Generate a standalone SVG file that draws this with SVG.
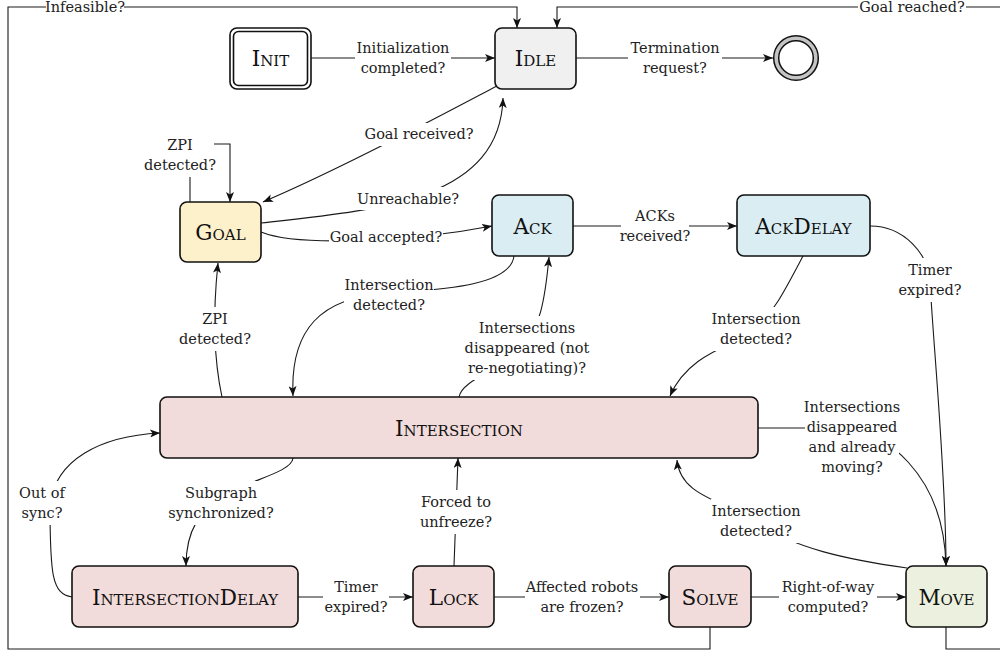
<svg xmlns="http://www.w3.org/2000/svg" width="1000" height="651" viewBox="0 0 1000 651">
  <defs>
    <marker id="arr" viewBox="0 0 10 8" markerWidth="10" markerHeight="8" refX="10" refY="4" orient="auto" markerUnits="userSpaceOnUse">
      <path d="M0,0 L10,4 L0,8 L2.5,4 Z" fill="#111"/>
    </marker>
    <style>
      .edge { fill: none; stroke: #1a1a1a; stroke-width: 1.1; }
      .arrow { marker-end: url(#arr); }
      .lbl rect { fill: #ffffff; stroke: none; }
      .lbl text { font-size: 14.5px; text-anchor: middle; fill: #222; }
      .box { stroke: #111; stroke-width: 1.6; }
      .nt { font-size: 21.5px; font-variant: small-caps; text-anchor: middle; fill: #111; }
      .plain { fill: #ffffff; }
      .idle { fill: #f0f0f0; }
      .goal { fill: #fdf1cb; }
      .ack { fill: #daedf3; }
      .inter { fill: #f2dcdb; }
      .move { fill: #ebf1de; }
    </style>
  </defs>

  <!-- transitions -->
  <g id="connectors">
    <path class="edge arrow" d="M 311,58 L 495,58"/>
    <path class="edge arrow" d="M 576,58 L 773,58"/>
    <path class="edge arrow" d="M 497,86 C 470,100 350,165 263,202"/>
    <path class="edge arrow" d="M 261,223 C 380,210 500,200 503,98"/>
    <path class="edge arrow" d="M 261,232 C 300,248 420,240 492,226"/>
    <path class="edge arrow" d="M 190,202 L 190,144 L 230,144 L 230,202"/>
    <path class="edge arrow" d="M 222,397 C 214,360 212,320 218,263"/>
    <path class="edge arrow" d="M 514,256 C 510,290 420,290 389,293 C 320,297 290,330 293,396"/>
    <path class="edge arrow" d="M 459,397 C 462,380 500,370 520,350 C 540,330 545,300 549,257"/>
    <path class="edge arrow" d="M 573,226 L 737,226"/>
    <path class="edge arrow" d="M 803,256 C 785,290 775,310 756,329 C 740,345 690,350 670,396"/>
    <path class="edge arrow" d="M 870,226 C 905,226 928,255 930,280 C 932,330 946,470 946,566"/>
    <path class="edge arrow" d="M 758,428 L 850,428 C 880,432 944,470 946,566"/>
    <path class="edge arrow" d="M 907,568 C 850,560 790,548 756,521 C 720,500 680,495 677,460"/>
    <path class="edge arrow" d="M 293,458 C 292,472 250,480 225,495 C 200,510 186,530 186,566"/>
    <path class="edge arrow" d="M 72,597 C 52,594 50,575 50,505 C 55,460 100,436 160,433"/>
    <path class="edge arrow" d="M 298,597 L 413,597"/>
    <path class="edge arrow" d="M 454,566 L 458,458"/>
    <path class="edge arrow" d="M 494,597 L 669,597"/>
    <path class="edge arrow" d="M 751,597 L 906,597"/>
    <path class="edge arrow" d="M 710,627 L 710,649 L 8,649 L 8,7 L 517,7 L 517,28"/>
    <path class="edge arrow" d="M 946,627 L 946,649 L 1010,649 L 1010,7 L 557,7 L 557,28"/>
  </g>

  <!-- transition labels -->
  <g id="labels" class="lbl" font-family="DejaVu Serif, serif">
    <rect x="355" y="36" width="96" height="44"/>
    <text x="403" y="53">Initialization</text><text x="403" y="73">completed?</text>

    <rect x="628" y="36" width="94" height="44"/>
    <text x="675" y="53">Termination</text><text x="675" y="73">request?</text>

    <rect x="364" y="123" width="110" height="23"/>
    <text x="419" y="139">Goal received?</text>

    <rect x="358" y="187" width="101" height="23"/>
    <text x="408" y="204">Unreachable?</text>

    <rect x="329" y="226" width="114" height="23"/>
    <text x="386" y="242">Goal accepted?</text>

    <rect x="146" y="133" width="68" height="44"/>
    <text x="180" y="150">ZPI</text><text x="180" y="170">detected?</text>

    <rect x="181" y="307" width="68" height="44"/>
    <text x="215" y="324">ZPI</text><text x="215" y="344">detected?</text>

    <rect x="344" y="273" width="90" height="44"/>
    <text x="389" y="290">Intersection</text><text x="389" y="310">detected?</text>

    <rect x="465" y="316" width="124" height="64"/>
    <text x="527" y="333">Intersections</text><text x="527" y="353">disappeared (not</text><text x="527" y="373">re-negotiating)?</text>

    <rect x="621" y="204" width="68" height="44"/>
    <text x="655" y="221">ACKs</text><text x="655" y="241">received?</text>

    <rect x="711" y="307" width="90" height="44"/>
    <text x="756" y="324">Intersection</text><text x="756" y="344">detected?</text>

    <rect x="896" y="258" width="68" height="44"/>
    <text x="930" y="275">Timer</text><text x="930" y="295">expired?</text>

    <rect x="805" y="395" width="94" height="84"/>
    <text x="852" y="412">Intersections</text><text x="852" y="432">disappeared</text><text x="852" y="452">and already</text><text x="852" y="472">moving?</text>

    <rect x="711" y="499" width="90" height="44"/>
    <text x="756" y="516">Intersection</text><text x="756" y="536">detected?</text>

    <rect x="168" y="481" width="106" height="44"/>
    <text x="221" y="498">Subgraph</text><text x="221" y="518">synchronized?</text>

    <rect x="16" y="481" width="52" height="44"/>
    <text x="42" y="498">Out of</text><text x="42" y="518">sync?</text>

    <rect x="420" y="490" width="72" height="44"/>
    <text x="456" y="507">Forced to</text><text x="456" y="527">unfreeze?</text>

    <rect x="323" y="575" width="66" height="44"/>
    <text x="356" y="592">Timer</text><text x="356" y="612">expired?</text>

    <rect x="525" y="575" width="115" height="44"/>
    <text x="582" y="592">Affected robots</text><text x="582" y="612">are frozen?</text>

    <rect x="779" y="575" width="98" height="44"/>
    <text x="828" y="592">Right-of-way</text><text x="828" y="612">computed?</text>

    <rect x="46" y="-4" width="78" height="22"/>
    <text x="85" y="12">Infeasible?</text>

    <rect x="858" y="-4" width="108" height="22"/>
    <text x="912" y="12">Goal reached?</text>
  </g>

  <!-- states -->
  <g id="states" font-family="DejaVu Serif, serif">
  <g id="init">
    <rect class="box plain" x="230" y="28" width="81" height="61" rx="7"/>
    <rect class="box plain" x="233.5" y="31.5" width="74" height="54" rx="5"/>
    <text class="nt" x="270.5" y="66">Init</text>
  </g>
  <g id="idle">
    <rect class="box idle" x="495" y="28" width="81" height="61" rx="7"/>
    <text class="nt" x="535.5" y="66">Idle</text>
  </g>
  <g id="final">
    <circle cx="796" cy="58" r="19.8" fill="#ffffff" stroke="#c4c4c4" stroke-width="4.6"/>
    <circle cx="796" cy="58" r="22.3" fill="none" stroke="#111" stroke-width="1.5"/>
    <circle cx="796" cy="58" r="17.3" fill="none" stroke="#111" stroke-width="1.5"/>
  </g>
  <g id="goal">
    <rect class="box goal" x="180" y="202" width="81" height="60" rx="7"/>
    <text class="nt" x="220.5" y="240">Goal</text>
  </g>
  <g id="ack">
    <rect class="box ack" x="492" y="195" width="81" height="61" rx="7"/>
    <text class="nt" x="532.5" y="233.5">Ack</text>
  </g>
  <g id="ackdelay">
    <rect class="box ack" x="737" y="195" width="133" height="61" rx="7"/>
    <text class="nt" x="803.5" y="233.5">AckDelay</text>
  </g>
  <g id="intersection">
    <rect class="box inter" x="160" y="397" width="598" height="61" rx="7"/>
    <text class="nt" x="459" y="435.5">Intersection</text>
  </g>
  <g id="intersectiondelay">
    <rect class="box inter" x="72" y="566" width="226" height="61" rx="7"/>
    <text class="nt" x="185" y="604.5">IntersectionDelay</text>
  </g>
  <g id="lock">
    <rect class="box inter" x="413" y="566" width="81" height="61" rx="7"/>
    <text class="nt" x="453.5" y="604.5">Lock</text>
  </g>
  <g id="solve">
    <rect class="box inter" x="669" y="566" width="82" height="61" rx="7"/>
    <text class="nt" x="710" y="604.5">Solve</text>
  </g>
  <g id="move">
    <rect class="box move" x="906" y="566" width="81" height="61" rx="7"/>
    <text class="nt" x="946.5" y="604.5">Move</text>
  </g>
  </g>
</svg>
